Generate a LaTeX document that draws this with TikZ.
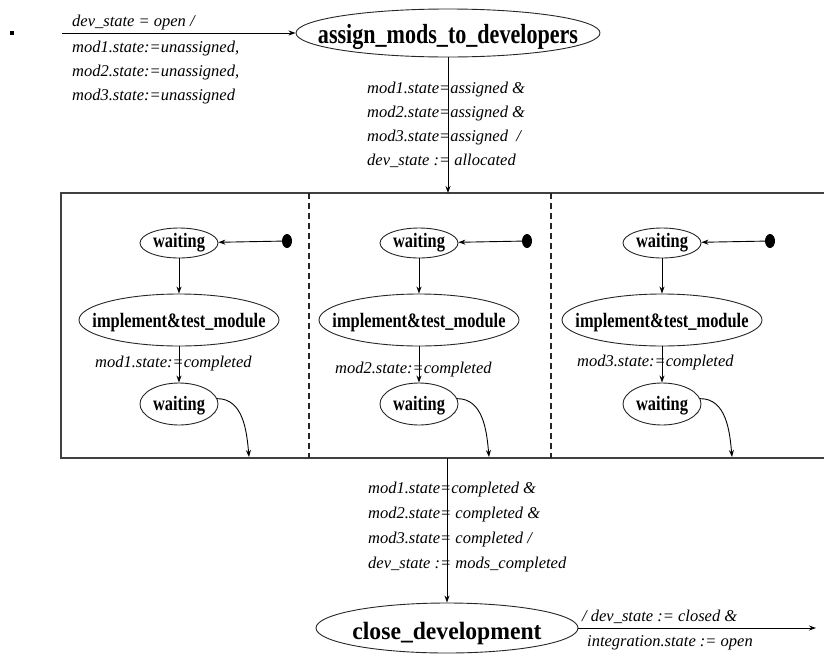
\documentclass[tikz,border=0pt]{standalone}
\usepackage{fontspec}
\setmainfont{Liberation Serif}
\newfontfamily\statefont[FakeStretch=0.8]{Liberation Serif}
\newfontfamily\closefont[FakeStretch=0.95]{Liberation Serif}
\usetikzlibrary{shapes.geometric,arrows.meta}
% state name: zero-size box, baseline shifted by #1, size #2
\newcommand{\stxt}[3]{\makebox[0pt]{\raisebox{#1}[0pt][0pt]{\fontsize{#2}{#2}\selectfont #3}}}

\begin{document}
\begin{tikzpicture}[x=1pt,y=-1pt,
  stt/.style={ellipse, draw=black!85, line width=0.9pt, inner sep=0pt, font=\statefont\bfseries},
  arr/.style={draw=black, line width=0.9pt, -{Stealth[length=7pt,width=5pt]}},
  lbl/.style={anchor=base west, inner sep=0pt, font=\itshape\fontsize{16.5}{20}\selectfont},
  wait/.style={stt, minimum width=78pt, minimum height=30pt},
  waitlow/.style={stt, minimum width=78pt, minimum height=42pt},
  impl/.style={stt, minimum width=200pt, minimum height=52pt},
  initdot/.style={ellipse, fill=black, inner sep=0pt, minimum width=10pt, minimum height=14pt},
  boxline/.style={draw=black!75, line width=1.4pt},
  lane/.style={draw=black!85, line width=1.1pt, dash pattern=on 6pt off 4pt}]

\useasboundingbox (0,0) rectangle (824,654);

% small marker at the left
\node[fill=black, minimum size=3.5pt, inner sep=0pt] (mark) at (12,33) {};

% top state and its entry transition
\node[stt, minimum width=304pt, minimum height=48pt] (assign) at (448,33)
  {\stxt{-10pt}{27.6}{assign\_mods\_to\_developers}};
\coordinate (start) at (62,33);
\draw[arr] (start) -- (assign.west);
\node[lbl] (tl1) at (72,26)  {dev\_state = open /};
\node[lbl] (tl2) at (72,52)  {mod1.state:=unassigned,};
\node[lbl] (tl3) at (72,76)  {mod2.state:=unassigned,};
\node[lbl] (tl4) at (72,100) {mod3.state:=unassigned};

% concurrent composite state
\coordinate (bTL) at (61,193);
\coordinate (bTR) at (824,193);
\coordinate (bBL) at (61,458);
\coordinate (bBR) at (824,458);
\draw[boxline] (bTR) -- (bTL) -- (bBL) -- (bBR);
\coordinate (l1t) at (309,193);
\coordinate (l1b) at (309,458);
\coordinate (l2t) at (551,193);
\coordinate (l2b) at (551,458);
\draw[lane] (l1t) -- (l1b);
\draw[lane] (l2t) -- (l2b);

% transition into the composite state
\coordinate (inTop) at (448,193);
\draw[arr] (assign.south) -- (inTop);
\node[lbl] (av1) at (367,93)  {mod1.state=assigned \&};
\node[lbl] (av2) at (367,117) {mod2.state=assigned \&};
\node[lbl] (av3) at (367,141) {mod3.state=assigned\ \ /};
\node[lbl] (av4) at (367,165) {dev\_state := allocated};

% the three regions
\foreach \cx/\i/\lx/\ly/\dx in {179/1/95/367/287, 419/2/335/373/527, 662/3/577/366/770} {
  \node[wait] (wt\i) at (\cx,243) {\stxt{-4.5pt}{20.5}{waiting}};
  \node[impl] (im\i) at (\cx,320) {\stxt{-7pt}{20.5}{implement\&test\_module}};
  \node[waitlow] (wl\i) at (\cx,404) {\stxt{-6pt}{20.5}{waiting}};
  \node[initdot] (dot\i) at (\dx,241) {};
  \node[lbl] (lab\i) at (\lx,\ly) {mod\i.state:=completed};
  \coordinate (out\i) at ({\cx+70},457);
  \draw[arr] (dot\i) -- (wt\i);
  \draw[arr] (wt\i) -- (im\i);
  \draw[arr] (im\i) -- (wl\i);
  \draw[arr] (wl\i.8) to[out=0,in=95] (out\i);
}

% leaving the composite state
\node[stt, font=\closefont\bfseries, minimum width=262pt, minimum height=50pt] (close) at (447,628)
  {\stxt{-11pt}{24.9}{close\_development}};
\coordinate (outBot) at (447,458);
\draw[arr] (outBot) -- (close.north);
\node[lbl] (bv1) at (368,493) {mod1.state=completed \&};
\node[lbl] (bv2) at (368,518) {mod2.state= completed \&};
\node[lbl] (bv3) at (368,543) {mod3.state= completed /};
\node[lbl] (bv4) at (368,568) {dev\_state := mods\_completed};

% final transition
\coordinate (fin) at (816,628);
\draw[arr] (close.east) -- (fin);
\node[lbl] (br1) at (582,621) {/ dev\_state := closed \&};
\node[lbl] (br2) at (587,646) {integration.state := open};
\end{tikzpicture}
\end{document}
